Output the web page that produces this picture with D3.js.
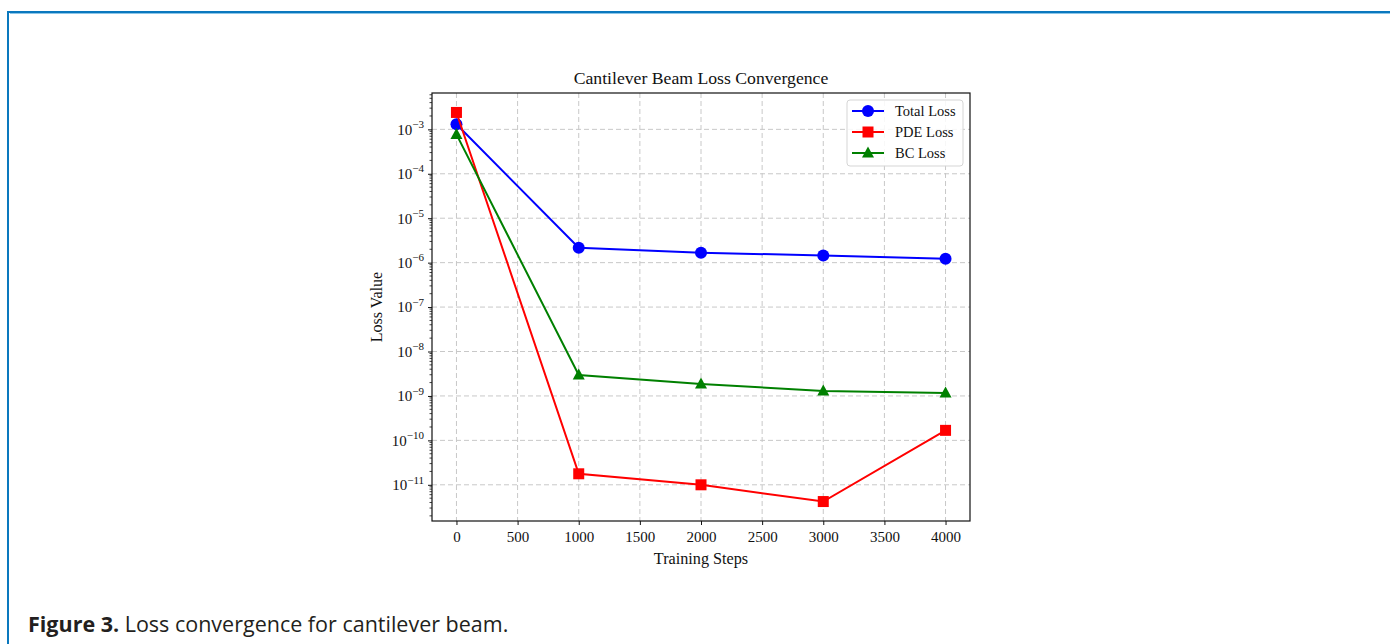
<!DOCTYPE html>
<html>
<head>
<meta charset="utf-8">
<script src="https://cdn.jsdelivr.net/npm/d3@7"></script>
<style>
  body { margin: 0; background: #fff; }
  svg { display: block; }
  .tick text { font-family: 'Liberation Serif', 'Times New Roman', serif; font-size: 15px; fill: #111; }
  .axis path, .axis line { stroke: #111; }
</style>
</head>
<body>
<div id="chart"></div>
<script>
const steps = [0, 1000, 2000, 3000, 4000]
const totalLoss = [1.3e-3, 2.17e-6, 1.68e-6, 1.44e-6, 1.23e-6]
const pdeLoss = [2.4e-3, 1.77e-11, 1.0e-11, 4.2e-12, 1.68e-10]
const bcLoss = [7.7e-4, 2.96e-9, 1.86e-9, 1.3e-9, 1.17e-9]
const xTicks = [0, 500, 1000, 1500, 2000, 2500, 3000, 3500, 4000]
const yExps = [-3, -4, -5, -6, -7, -8, -9, -10, -11]

const series = [
  { name: 'Total Loss', values: totalLoss, color: '#0000ff', marker: 'circle' },
  { name: 'PDE Loss', values: pdeLoss, color: '#ff0000', marker: 'square' },
  { name: 'BC Loss', values: bcLoss, color: '#008000', marker: 'triangle' }
]

const W = 1390, H = 644
const margin = { top: 93, left: 432 }
const width = 538, height = 428

const svg = d3.select('#chart').append('svg')
  .attr('width', W).attr('height', H)

// page frame
svg.append('line').attr('x1', 8).attr('x2', W).attr('y1', 12).attr('y2', 12)
  .attr('stroke', '#0a78be').attr('stroke-width', 2)
svg.append('line').attr('x1', 10).attr('x2', W).attr('y1', 13.5).attr('y2', 13.5)
  .attr('stroke', '#8cc6e8').attr('stroke-width', 1)
svg.append('line').attr('x1', 8).attr('x2', 8).attr('y1', 11).attr('y2', H)
  .attr('stroke', '#0a78be').attr('stroke-width', 2)

// scales: 5% padding like matplotlib
const xExtent = d3.extent(steps)
const xPad = (xExtent[1] - xExtent[0]) * 0.05
const x = d3.scaleLinear()
  .domain([xExtent[0] - xPad, xExtent[1] + xPad])
  .range([0, width])

const allVals = totalLoss.concat(pdeLoss, bcLoss)
const logExt = d3.extent(allVals, d => Math.log10(d))
const lPad = (logExt[1] - logExt[0]) * 0.05
const y = d3.scaleLog()
  .domain([Math.pow(10, logExt[0] - lPad), Math.pow(10, logExt[1] + lPad)])
  .range([height, 0])

const g = svg.append('g')
  .attr('transform', 'translate(' + margin.left + ', ' + margin.top + ')')

// grid
g.append('g').selectAll('line').data(xTicks).enter().append('line')
  .attr('x1', d => x(d)).attr('x2', d => x(d))
  .attr('y1', 0).attr('y2', height)
  .attr('stroke', '#c8c8c8').attr('stroke-dasharray', '5,3').attr('stroke-width', 1)
g.append('g').selectAll('line').data(yExps).enter().append('line')
  .attr('x1', 0).attr('x2', width)
  .attr('y1', d => y(Math.pow(10, d))).attr('y2', d => y(Math.pow(10, d)))
  .attr('stroke', '#c8c8c8').attr('stroke-dasharray', '5,3').attr('stroke-width', 1)

// minor y ticks
const minor = []
for (let e = -13; e <= -2; e++) {
  for (let m = 2; m <= 9; m++) {
    const v = m * Math.pow(10, e)
    if (v >= y.domain()[0] && v <= y.domain()[1]) minor.push(v)
  }
}
g.append('g').selectAll('line').data(minor).enter().append('line')
  .attr('x1', -2.5).attr('x2', 0)
  .attr('y1', d => y(d)).attr('y2', d => y(d))
  .attr('stroke', '#111').attr('stroke-width', 0.8)

// axes
const xAxis = d3.axisBottom(x).tickValues(xTicks).tickSize(4).tickPadding(6).tickFormat(d3.format('d'))
g.append('g').classed('axis', true)
  .attr('transform', 'translate(0, ' + height + ')')
  .call(xAxis)
  .call(a => a.select('.domain').remove())

const yAxis = d3.axisLeft(y).tickValues(yExps.map(e => Math.pow(10, e))).tickSize(4).tickPadding(4).tickFormat('')
const ya = g.append('g').classed('axis', true).call(yAxis)
ya.select('.domain').remove()
ya.selectAll('.tick').each(function(d) {
  const t = d3.select(this).select('text').text('')
  t.append('tspan').text('10')
  t.append('tspan').attr('dy', '-0.6em').attr('font-size', '11px').text('\u2212' + Math.round(-Math.log10(d)))
})

// frame box
g.append('rect').attr('width', width).attr('height', height)
  .attr('fill', 'none').attr('stroke', '#111').attr('stroke-width', 1.2)

// lines + markers
const line = d3.line().x((d, i) => x(steps[i])).y(d => y(d))
const markerPath = {
  circle: d3.symbol().type(d3.symbolCircle).size(Math.PI * 36)(),
  square: d3.symbol().type(d3.symbolSquare).size(121)(),
  triangle: 'M0,-6.5L6,4.5L-6,4.5Z'
}

series.forEach(s => {
  g.append('path').datum(s.values)
    .attr('d', line).attr('fill', 'none')
    .attr('stroke', s.color).attr('stroke-width', 2)
  g.append('g').selectAll('path').data(s.values).enter().append('path')
    .attr('d', markerPath[s.marker])
    .attr('transform', (d, i) => 'translate(' + x(steps[i]) + ', ' + y(d) + ')')
    .attr('fill', s.color)
})

// legend
const legend = g.append('g').attr('transform', 'translate(' + (width - 123) + ', 7)')
legend.append('rect').attr('width', 116).attr('height', 66).attr('rx', 3)
  .attr('fill', 'rgba(255,255,255,0.85)').attr('stroke', '#d5d5d5')
series.forEach((s, i) => {
  const ly = 11 + i * 21
  legend.append('line').attr('x1', 5).attr('x2', 37).attr('y1', ly).attr('y2', ly)
    .attr('stroke', s.color).attr('stroke-width', 2)
  legend.append('path').attr('d', markerPath[s.marker])
    .attr('transform', 'translate(21, ' + ly + ')').attr('fill', s.color)
  legend.append('text').attr('x', 48).attr('y', ly + 5)
    .attr('font-family', "'Liberation Serif', serif").attr('font-size', '14.5px').attr('fill', '#111')
    .text(s.name)
})

// titles
svg.append('text').attr('x', margin.left + width / 2).attr('y', 84)
  .attr('text-anchor', 'middle')
  .attr('font-family', "'Liberation Serif', serif").attr('font-size', '17.7px').attr('fill', '#111')
  .text('Cantilever Beam Loss Convergence')
svg.append('text').attr('x', margin.left + width / 2).attr('y', 564)
  .attr('text-anchor', 'middle')
  .attr('font-family', "'Liberation Serif', serif").attr('font-size', '16.2px').attr('fill', '#111')
  .text('Training Steps')
svg.append('text')
  .attr('transform', 'translate(382, ' + (margin.top + height / 2) + ') rotate(-90)')
  .attr('text-anchor', 'middle')
  .attr('font-family', "'Liberation Serif', serif").attr('font-size', '16px').attr('fill', '#111')
  .text('Loss Value')

// caption
const cap = svg.append('text').attr('x', 28).attr('y', 632)
  .attr('font-family', "'Open Sans', 'Noto Sans', sans-serif").attr('font-size', '21.5px').attr('fill', '#231f20')
cap.append('tspan').attr('font-weight', 'bold').text('Figure 3.')
cap.append('tspan').text(' Loss convergence for cantilever beam.')
</script>
</body>
</html>
